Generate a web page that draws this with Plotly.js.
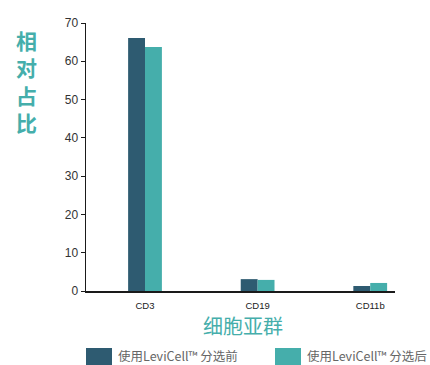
<!DOCTYPE html>
<html>
<head>
<meta charset="utf-8">
<script src="https://cdn.plot.ly/plotly-3.0.1.min.js"></script>
<style>html,body{margin:0;padding:0;background:#fff;}#chart{width:430px;height:365px;}</style>
</head>
<body>
<div id="chart"></div>
<script>
var categories = ["CD3", "CD19", "CD11b"];
var seriesNames = ["使用LeviCell™ 分选前", "使用LeviCell™ 分选后"];
var beforeValues = [66.1, 3.1, 1.3];
var afterValues = [63.7, 2.9, 2.1];
var yTickValues = [0, 10, 20, 30, 40, 50, 60, 70];

var darkColor = "#2e5b71";
var tealColor = "#45aeab";
var idx = categories.map(function(_, i){ return i; });

var traces = [
  {type: "bar", name: seriesNames[0], x: idx, y: beforeValues, marker: {color: darkColor}, showlegend: false},
  {type: "bar", name: seriesNames[1], x: idx, y: afterValues, marker: {color: tealColor}, showlegend: false}
];

function px(x){ return (x-86)/309; }
function py(y){ return (291-y)/268; }

var layout = {
  width: 430, height: 365,
  margin: {l: 86, r: 35, t: 23, b: 74},
  paper_bgcolor: "#fff", plot_bgcolor: "#fff",
  barmode: "group", bargap: 0.7, bargroupgap: 0,
  font: {family: "Liberation Sans, Arial, sans-serif", color: "#333"},
  xaxis: {
    range: [-0.524, 2.22],
    tickmode: "array", tickvals: idx, ticktext: categories,
    showline: true, linecolor: "#1a1a1a", linewidth: 1.5,
    ticks: "", showgrid: false, zeroline: false,
    ticklabelstandoff: 5,
    tickfont: {size: 9.5, color: "#222"}
  },
  yaxis: {
    range: [0, 70],
    tickmode: "array", tickvals: yTickValues,
    showline: true, linecolor: "#1a1a1a", linewidth: 1.5,
    ticks: "outside", ticklen: 4, tickcolor: "#1a1a1a", tickwidth: 1,
    showgrid: false, zeroline: false,
    tickfont: {size: 12, color: "#333"}
  },
  annotations: [
    {xref: "paper", yref: "paper", x: px(26), y: 1.0, xanchor: "center", yanchor: "top",
     text: "<b>相<br>对<br>占<br>比</b>", showarrow: false,
     font: {family: "Noto Sans CJK SC", size: 21, color: tealColor}},
    {xref: "paper", yref: "paper", x: px(243), y: py(325), xanchor: "center", yanchor: "middle",
     text: "细胞亚群", showarrow: false,
     font: {family: "Noto Sans CJK SC", size: 20, color: tealColor}},
    {xref: "paper", yref: "paper", x: px(116), y: py(355), xanchor: "left", yanchor: "middle",
     text: seriesNames[0], showarrow: false,
     font: {family: "Noto Sans CJK SC", size: 12.5, color: "#666"}},
    {xref: "paper", yref: "paper", x: px(305), y: py(355), xanchor: "left", yanchor: "middle",
     text: seriesNames[1], showarrow: false,
     font: {family: "Noto Sans CJK SC", size: 12.5, color: "#666"}}
  ],
  shapes: [
    {type: "rect", xref: "paper", yref: "paper", x0: px(86), x1: px(112),
     y0: py(365), y1: py(348), fillcolor: darkColor, line: {width: 0}},
    {type: "rect", xref: "paper", yref: "paper", x0: px(275), x1: px(301),
     y0: py(365), y1: py(348), fillcolor: tealColor, line: {width: 0}}
  ]
};

Plotly.newPlot("chart", traces, layout, {displayModeBar: false, staticPlot: true});
</script>
</body>
</html>
